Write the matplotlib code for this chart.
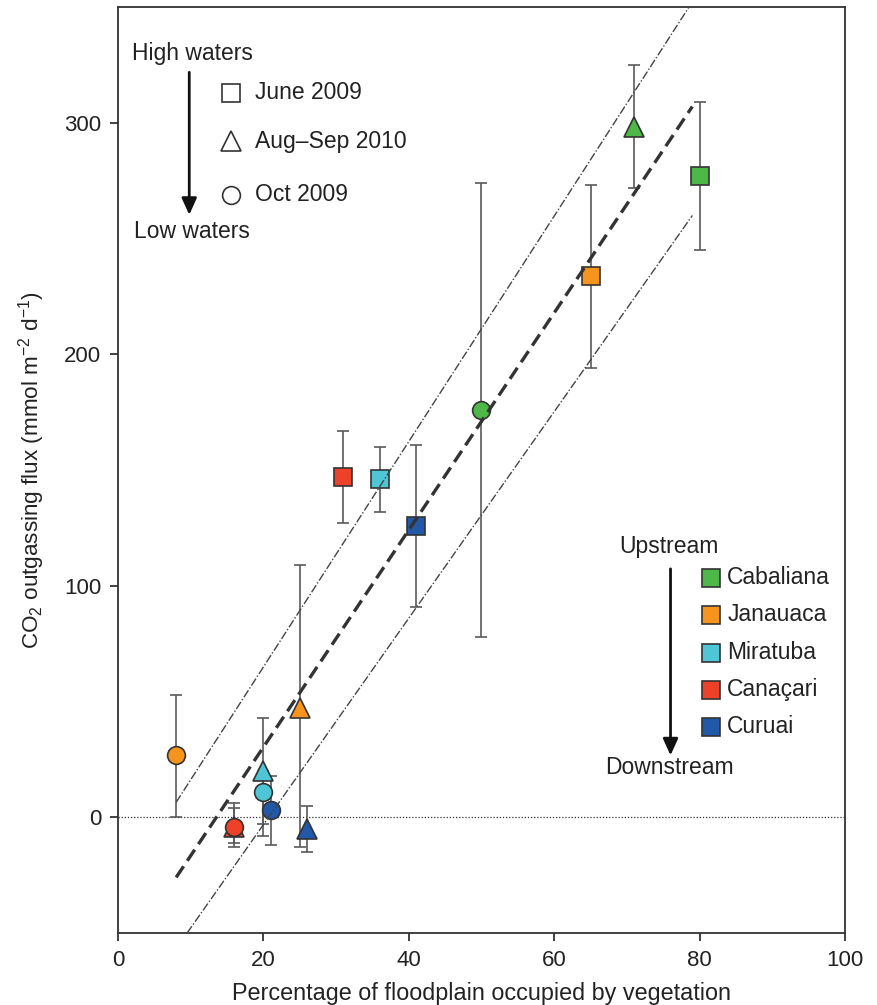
import matplotlib
matplotlib.use("Agg")
import matplotlib.pyplot as plt
import numpy as np

plt.rcParams['font.family'] = ['Liberation Sans', 'DejaVu Sans']
plt.rcParams['mathtext.fontset'] = 'custom'
plt.rcParams['mathtext.rm'] = 'Liberation Sans'
plt.rcParams['mathtext.it'] = 'Liberation Sans:italic'
plt.rcParams['mathtext.default'] = 'regular'

# ---- data ----
sites = ["Cabaliana", "Janauaca", "Miratuba", "Canaçari", "Curuai"]
site_colors = ["#4db848", "#f7941d", "#4fc6d6", "#ee4129", "#2158a8"]
periods = ["June 2009", "Aug\u2013Sep 2010", "Oct 2009"]
period_markers = ["s", "^", "o"]

# x: % floodplain vegetation, y: CO2 flux, lo/hi error ends  (per site, per period)
june_x = [80, 65, 36, 31, 41]
june_y = [277, 234, 146, 147, 126]
june_lo = [245, 194, 132, 127, 91]
june_hi = [309, 273, 160, 167, 161]

augsep_x = [71, 25, 20, 16, 26]
augsep_y = [298, 47, 20, -4, -5]
augsep_lo = [272, -13, -8, -11, -15]
augsep_hi = [325, 109, 43, 6, 5]

oct_x = [50, 8, 20, 16, 21]
oct_y = [176, 27, 11, -4, 3]
oct_lo = [78, 0, -3, -13, -12]
oct_hi = [274, 53, 20, 4, 18]

# regression line and bands: (x_start, x_end, slope, intercept)
fit_line = [8, 79, 4.69, -63.5]
upper_band = [8, 78.5, 4.87, -32.5]
lower_band = [9.5, 79, 4.46, -92.4]

x_ticks = [0, 20, 40, 60, 80, 100]
y_ticks = [0, 100, 200, 300]

TXT = "#222222"
FS = 16

# ---- figure ----
fig = plt.figure(figsize=(8.78, 10.05), dpi=100)
ax = fig.add_axes([118/878, 1-933/1005, (845-118)/878, (933-7)/1005])
ax.set_xlim(0, 100)
ax.set_ylim(-50, 350)

ax.axhline(0, color="#333333", lw=0.9, ls=(0, (1, 1.5)), zorder=1)

groups = [(june_x, june_y, june_lo, june_hi, "s", 13),
          (augsep_x, augsep_y, augsep_lo, augsep_hi, "^", 15),
          (oct_x, oct_y, oct_lo, oct_hi, "o", 12.8)]
for xs, ys, lo, hi, mk, ms in groups:
    for i in range(len(xs)):
        ax.errorbar(xs[i], ys[i], yerr=[[ys[i]-lo[i]], [hi[i]-ys[i]]],
                    fmt="none", ecolor="#5a5a5a", elinewidth=1.2,
                    capsize=4, capthick=1.2, zorder=2)
        ax.plot(xs[i], ys[i], marker=mk, ms=ms, mfc=site_colors[i],
                mec="#333333", mew=1.2, ls="none", zorder=3)

def draw_line(p, **kw):
    xx = np.array([p[0], p[1]])
    ax.plot(xx, p[2]*xx + p[3], **kw)

draw_line(fit_line, color="#333333", lw=2.4, ls=(0, (4, 2)), zorder=4)
draw_line(upper_band, color="#444444", lw=1.0, ls=(0, (6, 1.5, 1, 1.5)), zorder=4)
draw_line(lower_band, color="#444444", lw=1.0, ls=(0, (6, 1.5, 1, 1.5)), zorder=4)

ax.set_xticks(x_ticks)
ax.set_yticks(y_ticks)
ax.tick_params(direction="out", length=6, width=1.2, labelsize=FS, pad=6,
               colors=TXT)
for s in ax.spines.values():
    s.set_linewidth(1.3)
    s.set_color("#333333")

ax.set_xlabel("Percentage of floodplain occupied by vegetation", fontsize=16.8,
              color=TXT, labelpad=8)
ax.set_ylabel(r"CO$_2$ outgassing flux (mmol m$^{-2}$ d$^{-1}$)", fontsize=16.2,
              color=TXT, labelpad=12)

# ---- period legend (top-left) ----
ax.text(10.2, 330, "High waters", fontsize=16.5, ha="center", va="center", color=TXT)
ax.annotate("", xy=(9.8, 259), xytext=(9.8, 323),
            arrowprops=dict(arrowstyle="-|>,head_length=1.0,head_width=0.45",
                            color="#111111", lw=2))
ax.text(10.2, 253, "Low waters", fontsize=16.5, ha="center", va="center", color=TXT)
per_y = [313, 292, 269]
per_ms = [13, 15, 12.8]
for mk, lab, yy, ms in zip(period_markers, periods, per_y, per_ms):
    ax.plot(15.6, yy, marker=mk, ms=ms, mfc="white",
            mec="#333333", mew=1.2, ls="none")
    ax.text(18.8, yy, lab, fontsize=16.5, va="center", color=TXT)

# ---- site legend (bottom-right) ----
ax.text(75.8, 117, "Upstream", fontsize=16.5, ha="center", va="center", color=TXT)
ax.annotate("", xy=(76.0, 25.5), xytext=(76.0, 108.5),
            arrowprops=dict(arrowstyle="-|>,head_length=1.0,head_width=0.45",
                            color="#111111", lw=2))
ax.text(75.8, 21.5, "Downstream", fontsize=16.5, ha="center", va="center", color=TXT)
site_y = [103.5, 87.4, 71.0, 55.0, 39.0]
for name, col, yy in zip(sites, site_colors, site_y):
    ax.plot(81.6, yy, marker="s", ms=13, mfc=col, mec="#333333", mew=1.2, ls="none")
    ax.text(83.8, yy, name, fontsize=16.5, va="center", color=TXT)

fig.savefig("out.png", dpi=100)
